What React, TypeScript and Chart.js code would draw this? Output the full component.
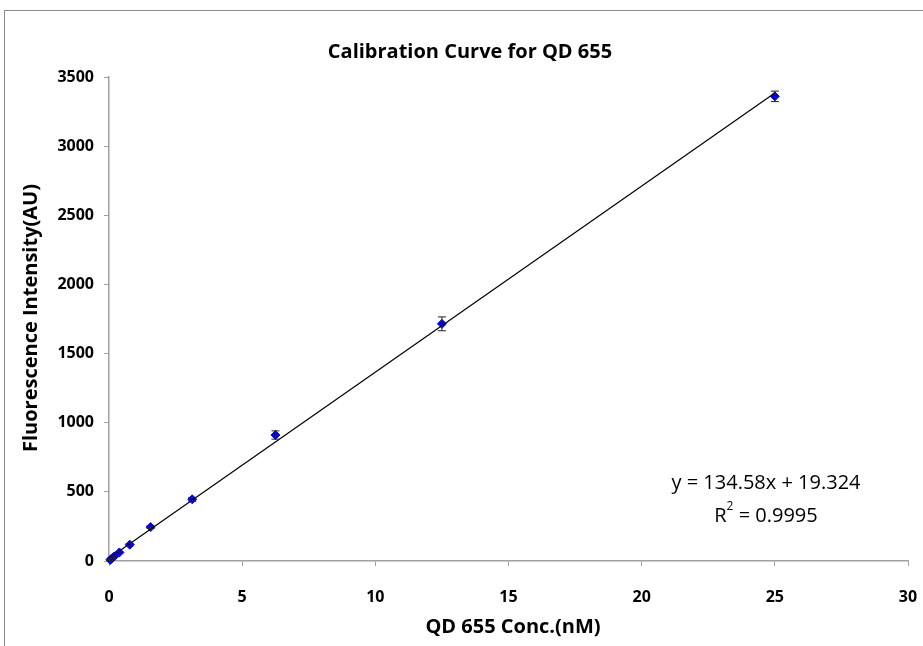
import React, { useEffect, useRef } from "react";
import { Chart, registerables } from "chart.js";

Chart.register(...registerables);

const concentrations = [0.049, 0.098, 0.195, 0.39, 0.78, 1.5625, 3.125, 6.25, 12.5, 25];
const intensities = [8, 18, 33, 62, 118, 245, 446, 911, 1715, 3360];
const errors = [4, 4, 5, 6, 8, 10, 14, 30, 50, 38];
const trendX = [0, 25];
const slope = 134.58;
const intercept = 19.324;
const xTicks = [0, 5, 10, 15, 20, 25, 30];
const yTicks = [0, 500, 1000, 1500, 2000, 2500, 3000, 3500];

const titleText = "Calibration Curve for QD 655";
const xTitle = "QD 655 Conc.(nM)";
const yTitle = "Fluorescence Intensity(AU)";
const eqLine1 = "y = 134.58x + 19.324";

const FONT = "'Open Sans', 'Noto Sans', sans-serif";

export default function App() {
  const ref = useRef<HTMLCanvasElement | null>(null);

  useEffect(() => {
    if (!ref.current) return;

    const errorBars = {
      id: "errorBars",
      afterDatasetsDraw(chart: any) {
        const meta = chart.getDatasetMeta(1);
        const ys = chart.scales.y;
        const ctx = chart.ctx;
        ctx.save();
        ctx.strokeStyle = "#222222";
        ctx.lineWidth = 1;
        meta.data.forEach((pt: any, i: number) => {
          const v = intensities[i];
          const e = errors[i];
          const top = ys.getPixelForValue(v + e);
          const bot = ys.getPixelForValue(v - e);
          const x = pt.x;
          ctx.beginPath();
          ctx.moveTo(x, top);
          ctx.lineTo(x, bot);
          ctx.moveTo(x - 4, top);
          ctx.lineTo(x + 4, top);
          ctx.moveTo(x - 4, bot);
          ctx.lineTo(x + 4, bot);
          ctx.stroke();
        });
        ctx.restore();
      },
    };

    const texts = {
      id: "texts",
      afterDraw(chart: any) {
        const ctx = chart.ctx;
        ctx.save();
        ctx.fillStyle = "#000";
        ctx.textAlign = "center";
        ctx.textBaseline = "middle";
        ctx.font = `bold 20px ${FONT}`;
        ctx.fillText(titleText, 470, 52);
        ctx.font = `bold 20px ${FONT}`;
        ctx.fillText(xTitle, 513, 627);
        ctx.save();
        ctx.translate(31, 318);
        ctx.rotate(-Math.PI / 2);
        ctx.fillText(yTitle, 0, 0);
        ctx.restore();
        ctx.font = `20px ${FONT}`;
        ctx.fillText(eqLine1, 766, 483);
        // R^2 line
        const r = "R";
        const rest = " = 0.9995";
        ctx.textAlign = "left";
        const wR = ctx.measureText(r).width;
        const wRest = ctx.measureText(rest).width;
        ctx.font = `12px ${FONT}`;
        const wSup = ctx.measureText("2").width;
        const total = wR + wSup + wRest;
        const x0 = 766 - total / 2;
        ctx.font = `20px ${FONT}`;
        ctx.fillText(r, x0, 516);
        ctx.font = `12px ${FONT}`;
        ctx.fillText("2", x0 + wR, 507);
        ctx.font = `20px ${FONT}`;
        ctx.fillText(rest, x0 + wR + wSup, 516);
        ctx.restore();
      },
    };

    const chart = new Chart(ref.current, {
      type: "scatter",
      data: {
        datasets: [
          {
            type: "line",
            label: "trend",
            data: trendX.map((x) => ({ x, y: slope * x + intercept })),
            borderColor: "#000",
            borderWidth: 1.2,
            pointRadius: 0,
            fill: false,
          } as any,
          {
            label: "data",
            data: concentrations.map((x, i) => ({ x, y: intensities[i] })),
            backgroundColor: "#0000ff",
            borderColor: "#0000ff",
            pointStyle: "rectRot",
            pointRadius: 4.5,
            borderWidth: 1,
          },
        ],
      },
      options: {
        animation: false,
        responsive: false,
        clip: false as any,
        layout: { padding: { left: 0, right: 15, top: 77, bottom: 0 } },
        plugins: {
          legend: { display: false },
          title: { display: false },
          tooltip: { enabled: false },
        },
        scales: {
          x: {
            type: "linear",
            min: 0,
            max: 30,
            afterBuildTicks: (s: any) => {
              s.ticks = xTicks.map((v) => ({ value: v }));
            },
            afterFit: (s: any) => {
              s.height = 85;
              s.paddingLeft = 0;
              s.paddingRight = 0;
            },
            ticks: {
              color: "#000",
              font: { family: FONT, size: 16, weight: "bold" },
              padding: 22,
              maxRotation: 0,
              callback: (v: any) => String(v),
            },
            grid: { drawOnChartArea: false, drawTicks: true, tickLength: 5, color: "#a0a0a0" },
            border: { color: "#a0a0a0", width: 1.5 },
          },
          y: {
            type: "linear",
            min: 0,
            max: 3500,
            afterBuildTicks: (s: any) => {
              s.ticks = yTicks.map((v) => ({ value: v }));
            },
            afterFit: (s: any) => {
              s.width = 109;
              s.paddingTop = 0;
              s.paddingBottom = 0;
            },
            ticks: {
              color: "#000",
              font: { family: FONT, size: 16, weight: "bold" },
              padding: 10,
              callback: (v: any) => String(v),
            },
            grid: { drawOnChartArea: false, drawTicks: true, tickLength: 5, color: "#a0a0a0" },
            border: { color: "#a0a0a0", width: 1.5 },
          },
        },
      },
      plugins: [errorBars, texts],
    });

    return () => chart.destroy();
  }, []);

  return (
    <div
      style={{
        position: "fixed",
        left: 0,
        top: 0,
        width: 923,
        height: 646,
        overflow: "hidden",
        background: "#fff",
      }}
    >
      <div
        style={{
          position: "absolute",
          left: 4,
          top: 10,
          width: 960,
          height: 700,
          border: "1.5px solid #8c8c8c",
          boxSizing: "border-box",
        }}
      />
      <canvas
        ref={ref}
        width={923}
        height={646}
        style={{ position: "absolute", left: 0, top: 0, width: 923, height: 646 }}
      />
    </div>
  );
}
